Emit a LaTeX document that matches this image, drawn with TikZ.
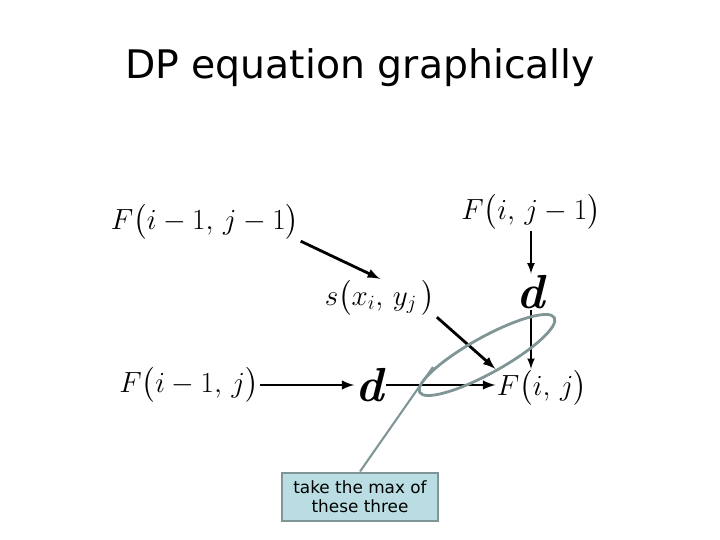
\documentclass[tikz,border=0pt]{standalone}
\usepackage{fontspec}
\usepackage{amsmath}
\newfontfamily\comicfont{DejaVu Sans}
\usetikzlibrary{shapes,arrows}
\definecolor{notegray}{RGB}{128,150,150}
\definecolor{noteblue}{RGB}{185,221,226}
\tikzset{
  term/.style={inner sep=1pt,font=\fontsize{22}{26}\selectfont},
  dnode/.style={inner sep=1pt,font=\fontsize{34}{38}\selectfont\bfseries\itshape},
  arr/.style={-latex,line width=2pt},
  varr/.style={-latex,line width=1.5pt},
  note/.style={draw=notegray,line width=1.5pt,fill=noteblue,align=center,
    minimum width=3.9cm,minimum height=1.22cm,inner sep=1pt,font=\comicfont\fontsize{12}{13.5}\selectfont}
}
\begin{document}
\begin{tikzpicture}
\useasboundingbox (0,0) rectangle (18,13.5);
\node (title) at (9.0,11.8) {\comicfont\fontsize{28}{32}\selectfont DP equation graphically};

\node[term] (Fa) at (5.125,7.95) {$F\bigl(i-1,\, j-1\bigr)$};%upper left
\node[term] (Fb) at (13.275,8.2) {$F\bigl(i,\, j-1\bigr)$};%upper right
\node[term] (s) at (9.5,6.05) {$s\bigl(x_i,\, y_j\,\bigr)$};%score
\node[dnode] (d1) at (13.275,6.2) {d};%gap, vertical
\node[term] (Fc) at (4.725,3.875) {$F\bigl(i-1,\, j\bigr)$};%lower left
\node[dnode] (d2) at (9.25,3.875) {d};%gap, horizontal
\node[term] (Fd) at (13.55,3.8) {$F\bigl(i,\, j\bigr)$};%lower right

\draw[arr] (Fa.south east) -- (s.north);
\draw[arr] (s.south east) -- (Fd.north west);
\draw[varr] (Fb.south) -- (d1.north);
\draw[varr] (d1.south) -- (d1.south |- Fd.north);
\draw[arr] (Fc.east) -- (d2.west);
\draw[arr] (d2.east) -- (d2.east -| Fd.west);

\node[note] (box) at (9.0,1.075) {take the max of\\these three};
\coordinate (tip) at (10.825,4.325);
\draw[color=notegray,line width=2pt] (12.175,4.625) ellipse[x radius=1.925cm,y radius=0.45cm,rotate=29];%the three
\draw[color=notegray,line width=1.5pt] (box.north) -- (tip);
\end{tikzpicture}
\end{document}
